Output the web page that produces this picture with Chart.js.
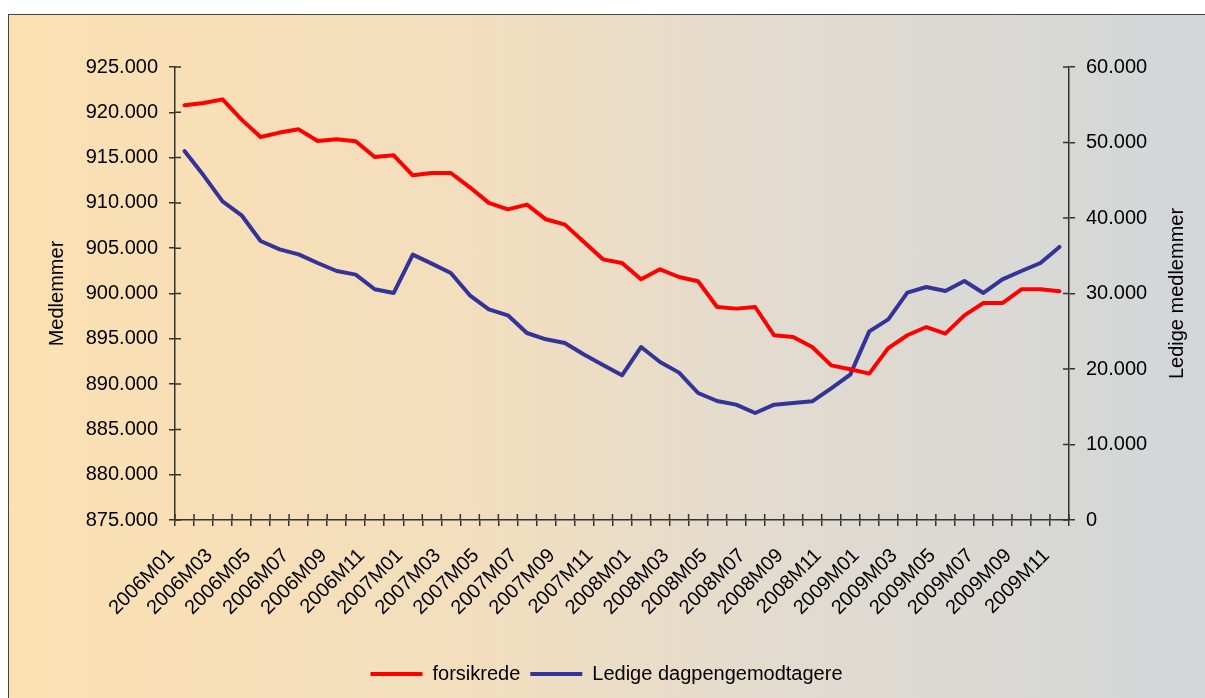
<!DOCTYPE html>
<html>
<head>
<meta charset="utf-8">
<script src="https://cdn.jsdelivr.net/npm/chart.js@4"></script>
<style>
    html, body { margin: 0; padding: 0; background: #fff; width: 1205px; height: 698px; overflow: hidden; }
    #frame {
        position: absolute; left: 8px; top: 14px; width: 1210px; height: 700px;
        border: 1.5px solid #444; box-sizing: border-box;
        background: linear-gradient(to right, #FBE0B1 0%, #F2DEBF 40%, #E1DBD0 65%, #D2D6D9 100%);
    }
    #wrap { position: absolute; left: 8px; top: 14px; width: 1197px; height: 684px; }
</style>
</head>
<body>
<div id="frame"></div>
<div id="wrap"><canvas id="chart"></canvas></div>
<script>
// kategorier (måneder)
const months = [
    "2006M01","2006M02","2006M03","2006M04","2006M05","2006M06","2006M07","2006M08","2006M09","2006M10","2006M11","2006M12",
    "2007M01","2007M02","2007M03","2007M04","2007M05","2007M06","2007M07","2007M08","2007M09","2007M10","2007M11","2007M12",
    "2008M01","2008M02","2008M03","2008M04","2008M05","2008M06","2008M07","2008M08","2008M09","2008M10","2008M11","2008M12",
    "2009M01","2009M02","2009M03","2009M04","2009M05","2009M06","2009M07","2009M08","2009M09","2009M10","2009M11"
];

// forsikrede (venstre akse)
const forsikrede = [
    920770, 921030, 921430, 919190, 917270, 917760, 918120, 916830, 917020, 916800, 915070, 915250,
    913050, 913300, 913300, 911720, 910000, 909290, 909810, 908190, 907600, 905680, 903770, 903370,
    901570, 902670, 901820, 901350, 898510, 898330, 898510, 895390, 895200, 894100, 892070, 891630,
    891160, 893980, 895390, 896300, 895570, 897590, 898950, 898950, 900460, 900460, 900240
];

// ledige dagpengemodtagere (højre akse)
const ledige = [
    48870, 45650, 42210, 40360, 36950, 35850, 35190, 34040, 32980, 32500, 30560, 30070,
    35150, 33960, 32720, 29760, 27900, 27110, 24770, 23930, 23440, 21910, 20540, 19170,
    22910, 20930, 19520, 16820, 15760, 15280, 14170, 15280, 15500, 15720, 17440, 19260,
    24990, 26580, 30120, 30860, 30330, 31660, 30070, 31880, 32980, 34040, 36160
];

const leftTicks = { min: 875000, max: 925000, step: 5000 };
const rightTicks = { min: 0, max: 60000, step: 10000 };
const leftTitle = "Medlemmer";
const rightTitle = "Ledige medlemmer";

const axisColor = '#333333';
const fontFamily = "'Liberation Sans', Arial, sans-serif";

function fmt(v) {
    return String(v).replace(/\B(?=(\d{3})+(?!\d))/g, '.');
}

// ticks der krydser aksen + aksetitler
const crossTicks = {
    id: 'crossTicks',
    afterDatasetsDraw(chart) {
        const ctx = chart.ctx;
        const a = chart.chartArea;
        const sx = chart.scales.x, sy = chart.scales.y, sy1 = chart.scales.y1;
        ctx.save();
        ctx.strokeStyle = axisColor;
        ctx.lineWidth = 1.5;
        ctx.beginPath();
        for (let i = 0; i <= months.length; i++) {
            const px = sx.getPixelForValue(i - 0.5);
            ctx.moveTo(px, a.bottom);
            ctx.lineTo(px, a.bottom - 6);
        }
        sy.ticks.forEach(function (t) {
            const py = sy.getPixelForValue(t.value);
            ctx.moveTo(a.left, py);
            ctx.lineTo(a.left + 6, py);
        });
        sy1.ticks.forEach(function (t) {
            const py = sy1.getPixelForValue(t.value);
            ctx.moveTo(a.right, py);
            ctx.lineTo(a.right - 6, py);
        });
        ctx.stroke();

        ctx.fillStyle = '#000';
        ctx.font = '20px ' + fontFamily;
        ctx.textAlign = 'center';
        ctx.textBaseline = 'middle';
        const cy = (a.top + a.bottom) / 2;
        ctx.save();
        ctx.translate(a.left - 118, cy);
        ctx.rotate(-Math.PI / 2);
        ctx.fillText(leftTitle, 0, 0);
        ctx.restore();
        ctx.save();
        ctx.translate(a.right + 108, cy);
        ctx.rotate(-Math.PI / 2);
        ctx.fillText(rightTitle, 0, 0);
        ctx.restore();
        ctx.restore();
    }
};

Chart.defaults.font.family = fontFamily;
Chart.defaults.font.size = 20;
Chart.defaults.color = '#000';

new Chart(document.getElementById('chart'), {
    type: 'line',
    data: {
        labels: months,
        datasets: [
            {
                label: 'forsikrede',
                data: forsikrede,
                yAxisID: 'y',
                borderColor: '#FF0000',
                backgroundColor: '#FF0000',
                borderWidth: 4,
                borderCapStyle: 'round',
                borderJoinStyle: 'round',
                pointRadius: 0,
                tension: 0
            },
            {
                label: 'Ledige dagpengemodtagere',
                data: ledige,
                yAxisID: 'y1',
                borderColor: '#333399',
                backgroundColor: '#333399',
                borderWidth: 4,
                borderCapStyle: 'round',
                borderJoinStyle: 'round',
                pointRadius: 0,
                tension: 0
            }
        ]
    },
    options: {
        responsive: true,
        maintainAspectRatio: false,
        animation: false,
        layout: {
            padding: { top: 53, bottom: 4, left: 0, right: 0 }
        },
        plugins: {
            tooltip: { enabled: false },
            legend: {
                position: 'bottom',
                labels: {
                    usePointStyle: true,
                    pointStyle: 'line',
                    pointStyleWidth: 52,
                    padding: 10,
                    color: '#000',
                    font: { size: 20 }
                }
            }
        },
        scales: {
            x: {
                offset: true,
                grid: { offset: true, drawOnChartArea: false, tickLength: 6, color: axisColor, lineWidth: 1.5 },
                border: { color: axisColor, width: 1.5 },
                ticks: {
                    autoSkip: false,
                    minRotation: 45,
                    maxRotation: 45,
                    padding: 18,
                    labelOffset: -13,
                    callback: function (v, i) {
                        return i % 2 === 0 ? months[i] : '';
                    }
                },
                afterFit: function (s) { s.height = 134; }
            },
            y: {
                position: 'left',
                min: leftTicks.min,
                max: leftTicks.max,
                grid: { drawOnChartArea: false, tickLength: 6, color: axisColor, lineWidth: 1.5 },
                border: { color: axisColor, width: 1.5 },
                ticks: {
                    stepSize: leftTicks.step,
                    padding: 11,
                    callback: function (v) { return fmt(v); }
                },
                afterFit: function (s) { s.width = 167; }
            },
            y1: {
                position: 'right',
                min: rightTicks.min,
                max: rightTicks.max,
                grid: { drawOnChartArea: false, tickLength: 6, color: axisColor, lineWidth: 1.5 },
                border: { color: axisColor, width: 1.5 },
                ticks: {
                    stepSize: rightTicks.step,
                    padding: 11,
                    callback: function (v) { return fmt(v); }
                },
                afterFit: function (s) { s.width = 136; }
            }
        }
    },
    plugins: [crossTicks]
});
</script>
</body>
</html>
